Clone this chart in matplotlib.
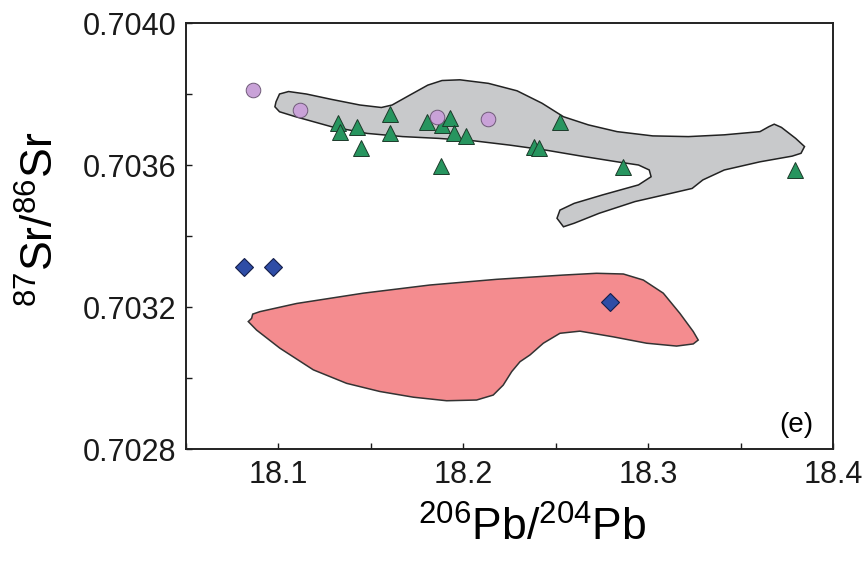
import matplotlib
matplotlib.use('Agg')
import matplotlib.pyplot as plt
from matplotlib.patches import Polygon
from matplotlib.ticker import MultipleLocator, FormatStrFormatter
import numpy as np

plt.rcParams['font.family'] = ['Liberation Sans', 'DejaVu Sans']
plt.rcParams['mathtext.fontset'] = 'custom'
plt.rcParams['mathtext.rm'] = 'Liberation Sans'

# samples: 206Pb/204Pb and 87Sr/86Sr
tri_pb = [18.1324, 18.1333, 18.1426, 18.1601, 18.1601, 18.1447, 18.1804, 18.1886, 18.1929,
          18.1950, 18.2016, 18.1882, 18.2385, 18.2408, 18.2523, 18.2865, 18.3797]
tri_sr = [0.703719, 0.703694, 0.703708, 0.703743, 0.703689, 0.703647, 0.703722, 0.703713, 0.703732,
          0.703689, 0.703682, 0.703597, 0.703652, 0.703649, 0.703722, 0.703595, 0.703586]

circ_pb = [18.0860, 18.1117, 18.1857, 18.2132]
circ_sr = [0.703810, 0.703755, 0.703736, 0.703729]

dia_pb = [18.0814, 18.0971, 18.2792]
dia_sr = [0.703312, 0.703312, 0.703215]

# field outlines
gray_pb = [18.0987, 18.1006, 18.1055, 18.1151, 18.1286, 18.1441, 18.1557, 18.1615, 18.1711, 18.1808,
           18.1885, 18.1982, 18.2136, 18.2291, 18.2426, 18.2542, 18.2677, 18.2832, 18.3025, 18.3218,
           18.3412, 18.3605, 18.3653, 18.3682, 18.3721, 18.3798, 18.3846, 18.3827, 18.3779, 18.3605,
           18.3412, 18.3296, 18.3238, 18.3122, 18.2929, 18.2735, 18.2600, 18.2542, 18.2507, 18.2523,
           18.2600, 18.2755, 18.2948, 18.3016, 18.3006, 18.2948, 18.2832, 18.2639, 18.2446, 18.2252,
           18.2059, 18.1866, 18.1673, 18.1480, 18.1286, 18.1093, 18.1006, 18.0981]
gray_sr = [0.703778, 0.703800, 0.703807, 0.703800, 0.703785, 0.703769, 0.703762, 0.703769, 0.703797, 0.703825,
           0.703838, 0.703840, 0.703830, 0.703809, 0.703774, 0.703736, 0.703713, 0.703694, 0.703682, 0.703680,
           0.703685, 0.703694, 0.703708, 0.703715, 0.703706, 0.703675, 0.703652, 0.703633, 0.703625, 0.703609,
           0.703586, 0.703558, 0.703534, 0.703520, 0.703497, 0.703464, 0.703436, 0.703426, 0.703450, 0.703473,
           0.703492, 0.703516, 0.703544, 0.703567, 0.703586, 0.703600, 0.703609, 0.703625, 0.703642, 0.703656,
           0.703668, 0.703675, 0.703680, 0.703689, 0.703708, 0.703736, 0.703750, 0.703764]

pink_pb = [18.0837, 18.0855, 18.0861, 18.0900, 18.1099, 18.1459, 18.1820, 18.2180, 18.2541, 18.2721,
           18.2866, 18.2974, 18.3082, 18.3172, 18.3244, 18.3271, 18.3244, 18.3154, 18.2992, 18.2811,
           18.2631, 18.2523, 18.2433, 18.2361, 18.2307, 18.2262, 18.2216, 18.2162, 18.2072, 18.1910,
           18.1730, 18.1549, 18.1369, 18.1189, 18.1008, 18.0882]
pink_sr = [0.703159, 0.703168, 0.703180, 0.703187, 0.703210, 0.703239, 0.703262, 0.703278, 0.703290, 0.703295,
           0.703293, 0.703276, 0.703239, 0.703182, 0.703131, 0.703107, 0.703096, 0.703090, 0.703098, 0.703116,
           0.703132, 0.703126, 0.703098, 0.703065, 0.703046, 0.703018, 0.702980, 0.702952, 0.702938, 0.702936,
           0.702946, 0.702962, 0.702985, 0.703023, 0.703084, 0.703135]

fig = plt.figure(figsize=(8.65, 5.61), dpi=100)
ax = fig.add_axes([0.215, 0.1996, 0.748, 0.7594])

ax.add_patch(Polygon(np.column_stack([gray_pb, gray_sr]), closed=True,
                     facecolor='#c8c9cb', edgecolor='#222222', linewidth=1.1, zorder=1))
ax.add_patch(Polygon(np.column_stack([pink_pb, pink_sr]), closed=True,
                     facecolor='#f48c8f', edgecolor='#333333', linewidth=1.1, zorder=1))

ax.plot(tri_pb, tri_sr, '^', ms=12, mfc='#27955f', mec='#1d3a2a', mew=0.7, zorder=3)
ax.plot(circ_pb, circ_sr, 'o', ms=10.5, mfc='#c9a2d8', mec='#6f5a78', mew=0.7, zorder=4)
ax.plot(dia_pb, dia_sr, 'D', ms=9, mfc='#2f4da6', mec='#141e4a', mew=0.8, zorder=4)

ax.set_xlim(18.05, 18.4)
ax.set_ylim(0.7028, 0.7040)
ax.xaxis.set_major_locator(MultipleLocator(0.1))
ax.xaxis.set_minor_locator(MultipleLocator(0.05))
ax.yaxis.set_major_locator(MultipleLocator(0.0004))
ax.yaxis.set_minor_locator(MultipleLocator(0.0002))
ax.yaxis.set_major_formatter(FormatStrFormatter('%.4f'))
ax.xaxis.set_major_formatter(FormatStrFormatter('%.1f'))
ax.tick_params(which='both', direction='in', length=4, width=1, top=False, right=False,
               labelsize=22, colors='#1a1a1a')
ax.tick_params(axis='x', pad=8)
ax.tick_params(axis='y', pad=7)
for s in ax.spines.values():
    s.set_linewidth(1.4)
    s.set_color('#222222')

ax.set_xlabel(r'$\mathregular{^{206}Pb/^{204}Pb}$', fontsize=32, labelpad=12)
ax.set_ylabel(r'$\mathregular{^{87}Sr/^{86}Sr}$', fontsize=32, labelpad=14)
ax.xaxis.set_label_coords(0.535, -0.135)
ax.yaxis.label.set_y(0.54)
ax.text(0.943, 0.056, '(e)', transform=ax.transAxes, fontsize=20, ha='center', va='center')

fig.savefig('out.png', dpi=100)
